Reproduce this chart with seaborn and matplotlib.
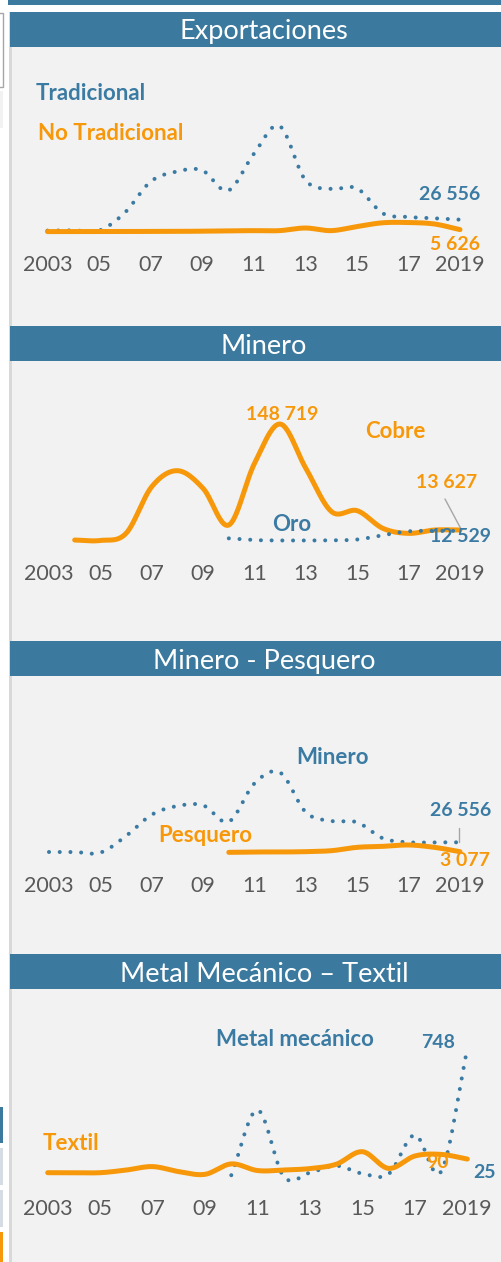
import numpy as np
import pandas as pd
import matplotlib
matplotlib.use("Agg")
import matplotlib.pyplot as plt
import seaborn as sns
from matplotlib.patches import Rectangle
from matplotlib.lines import Line2D

# ---------------- data ----------------
years = list(range(2003, 2020))
tick_years = [2003, 2005, 2007, 2009, 2011, 2013, 2015, 2017, 2019]
tick_labels = ["2003", "05", "07", "09", "11", "13", "15", "17", "2019"]

# Exportaciones
tradicional = [3500, 4200, 3500, 41300, 106400, 127400, 130200, 87500, 164500,
               223300, 109900, 91000, 92400, 39900, 32200, 29400, 26556]
no_tradicional = [1500, 1500, 1600, 1700, 1800, 2000, 2300, 3000, 3500,
                  3500, 9000, 3500, 12000, 20000, 20500, 17500, 5626]

# Minero
cobre_years = list(range(2004, 2020))
cobre = [850, 300, 9350, 68850, 89250, 66700, 20000, 98600, 148719,
         92200, 37000, 38250, 15700, 9350, 13600, 13627]
oro_years = list(range(2010, 2020))
oro = [3000, 800, 300, 300, 500, 1500, 7000, 12000, 12500, 12529]

# Minero - Pesquero
minero = [2300, 2300, 700, 42500, 96100, 117900, 119600, 78500, 174900,
          201700, 102000, 80200, 76800, 36600, 26600, 26600, 26556]
pesquero_years = list(range(2010, 2020))
pesquero = [1400, 2300, 2300, 3100, 5600, 14000, 16500, 19900, 14000, 3077]

# Metal Mecánico - Textil
metal_years = list(range(2010, 2020))
metal = [45, 408, 37, 59, 98, 54, 52, 269, 65, 748]
textil = [59, 59, 59, 74, 93, 65, 50, 108, 71, 74, 82, 106, 176, 83, 152, 161, 135]

titles = ["Exportaciones", "Minero", "Minero - Pesquero", "Metal Mecánico – Textil"]

# ---------------- style ----------------
W, H = 502, 1262
BLUE_BAR = "#3B7A9E"
BLUE = "#3B7BA3"
ORANGE = "#F7980A"
GREY_TXT = "#595959"
BG = "#F2F2F2"

sns.set_theme(style="white")
plt.rcParams["font.family"] = ["Lato", "DejaVu Sans"]

fig = plt.figure(figsize=(W / 100, H / 100), dpi=100)
fig.patch.set_facecolor("white")


def fx(x):
    return x / W


def fy(y):
    return 1 - y / H


def rect(x0, y0, x1, y1, **kw):
    fig.add_artist(Rectangle((fx(x0), fy(y1)), (x1 - x0) / W, (y1 - y0) / H,
                             transform=fig.transFigure, zorder=-5, **kw))


# background & decorations
rect(8, 0, 502, 4.5, facecolor=BLUE_BAR, edgecolor="none")
rect(9, 12, 502, 1262, facecolor=BG, edgecolor="none")
rect(9, 12, 12, 1262, facecolor="#D9D9D9", edgecolor="none")
rect(-2, 13, 3, 87, facecolor="white", edgecolor="#A6A6A6", linewidth=1)
rect(0, 91, 3, 128, facecolor="#F2F2F2", edgecolor="none")
rect(0, 1107, 3.5, 1143, facecolor=BLUE_BAR, edgecolor="none")
rect(0, 1148, 3.5, 1185, facecolor="#D6DCE4", edgecolor="none")
rect(0, 1190, 3.5, 1227, facecolor="#D6DCE4", edgecolor="none")
rect(0, 1232, 3.5, 1262, facecolor=ORANGE, edgecolor="none")

bars = [(12, 47), (326, 361), (641, 676), (954, 989)]
for (t0, t1), title in zip(bars, titles):
    rect(10, t0, 502, t1, facecolor=BLUE_BAR, edgecolor="none")
    fig.text(fx(264), fy((t0 + t1) / 2 + 2.5), title, color="white",
             fontsize=19.5, ha="center", va="center")


def smooth(xs, ys, n=24):
    xs = np.asarray(xs, float)
    ys = np.asarray(ys, float)
    px = np.concatenate([[2 * xs[0] - xs[1]], xs, [2 * xs[-1] - xs[-2]]])
    py = np.concatenate([[2 * ys[0] - ys[1]], ys, [2 * ys[-1] - ys[-2]]])
    ox, oy = [], []
    t = np.linspace(0, 1, n, endpoint=False)
    for i in range(1, len(px) - 2):
        for arr, out in ((px, ox), (py, oy)):
            p0, p1, p2, p3 = arr[i - 1], arr[i], arr[i + 1], arr[i + 2]
            out.extend(0.5 * ((2 * p1) + (-p0 + p2) * t +
                              (2 * p0 - 5 * p1 + 4 * p2 - p3) * t ** 2 +
                              (-p0 + 3 * p1 - 3 * p2 + p3) * t ** 3))
    ox.append(xs[-1])
    oy.append(ys[-1])
    return np.array(ox), np.array(oy)


def make_ax(x2003, x2019, y_top, y_bot, base, per_px):
    ax = fig.add_axes([fx(x2003), fy(y_bot), (x2019 - x2003) / W, (y_bot - y_top) / H])
    ax.patch.set_alpha(0)
    return ax


def finish(ax, y_top, y_bot, base, per_px, tick_y):
    ax.set_xlim(2003, 2019)
    ax.set_ylim((base - y_bot) * per_px, (base - y_top) * per_px)
    for s in ax.spines.values():
        s.set_visible(False)
    ax.set_yticks([])
    ax.set_xticks(tick_years)
    ax.set_xticklabels(tick_labels)
    pad_px = tick_y - y_bot - 8
    ax.tick_params(axis="x", length=0, pad=pad_px * 0.72, labelsize=15.5,
                   labelcolor=GREY_TXT)
    ax.set_xlabel("")
    ax.set_ylabel("")
    ax.grid(False)


def dotted(ax, xs, ys):
    sx, sy = smooth(xs, ys)
    df = pd.DataFrame({"x": sx, "y": sy})
    sns.lineplot(data=df, x="x", y="y", ax=ax, color=BLUE, linewidth=2.9,
                 linestyle=(0, (0.01, 2.65)), dash_capstyle="round",
                 estimator=None, sort=False, clip_on=False)


def solid(ax, xs, ys):
    sx, sy = smooth(xs, ys)
    df = pd.DataFrame({"x": sx, "y": sy})
    sns.lineplot(data=df, x="x", y="y", ax=ax, color=ORANGE, linewidth=3.6,
                 solid_capstyle="round", estimator=None, sort=False, clip_on=False)


def label(x, y, s, color, ha="left", size=16):
    fig.text(fx(x), fy(y), s, color=color, fontsize=size, fontweight="bold",
             ha=ha, va="center")


NUM = 14

# Panel 1
P1 = (100, 240, 232.3, 2100)
ax1 = make_ax(47.5, 460, *P1)
dotted(ax1, years, tradicional)
solid(ax1, years, no_tradicional)
finish(ax1, *P1, 263)
label(36, 93, "Tradicional", BLUE)
label(38, 133, "No Tradicional", ORANGE)
label(480, 194, "26 556", BLUE, ha="right", size=NUM)
label(480, 245, "5 626", ORANGE, ha="right", size=NUM)

# Panel 2
P2 = (400, 550, 540.7, 1275)
ax2 = make_ax(49, 460, *P2)
solid(ax2, cobre_years, cobre)
dotted(ax2, oro_years, oro)
finish(ax2, *P2, 572)
label(282, 414, "148 719", ORANGE, ha="center", size=NUM)
label(365, 431, "Cobre", ORANGE)
label(477, 483, "13 627", ORANGE, ha="right", size=NUM)
label(292, 525, "Oro", BLUE, ha="center")
label(491, 537, "12 529", BLUE, ha="right", size=NUM)
fig.add_artist(Line2D([fx(445), fx(461)], [fy(499), fy(529)], color="#A6A6A6",
                      linewidth=1, transform=fig.transFigure))

# Panel 3
P3 = (760, 860, 852.9, 2514)
ax3 = make_ax(49, 460, *P3)
dotted(ax3, years, minero)
solid(ax3, pesquero_years, pesquero)
finish(ax3, *P3, 884)
label(333, 758, "Minero", BLUE, ha="center")
label(205, 835, "Pesquero", ORANGE, ha="center")
label(491, 811, "26 556", BLUE, ha="right", size=NUM)
fig.add_artist(Line2D([fx(459), fx(459)], [fy(828), fy(842)], color="#A6A6A6",
                      linewidth=1, transform=fig.transFigure))
label(490, 860, "3 077", ORANGE, ha="right", size=NUM)

# Panel 4
P4 = (1040, 1190, 1183.3, 5.568)
ax4 = make_ax(47.7, 467.3, *P4)
dotted(ax4, metal_years, metal)
solid(ax4, years, textil)
finish(ax4, *P4, 1207)
label(295, 1040, "Metal mecánico", BLUE, ha="center")
label(455, 1042, "748", BLUE, ha="right", size=NUM)
label(43, 1143, "Textil", ORANGE)
label(438, 1162, "90", ORANGE, ha="center", size=NUM)
label(473, 1173, "25", BLUE, size=NUM)

fig.savefig("out.png", dpi=100, facecolor="white")
